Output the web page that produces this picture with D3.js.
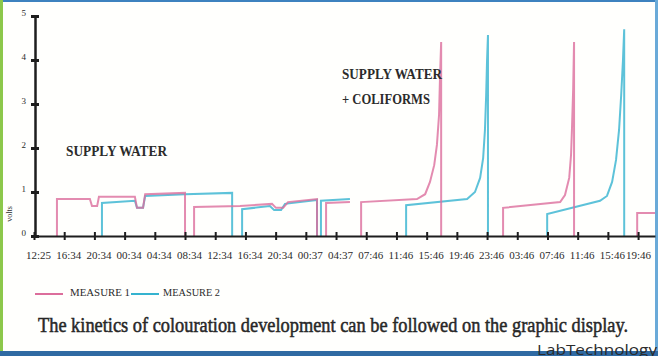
<!DOCTYPE html>
<html>
<head>
<meta charset="utf-8">
<script src="https://cdn.jsdelivr.net/npm/d3@7"></script>
<style>
  html, body { margin: 0; padding: 0; background: #fff; }
  svg { display: block; }
  text { font-family: "Liberation Serif", "DejaVu Serif", serif; fill: #2b2b2b; }
</style>
</head>
<body>
<svg id="chart" width="658" height="356"></svg>
<script>
// x ticks are evenly spaced on the display even though the clock gaps are not,
// so the runs below use the tick index as their x position
const tickLabels = ['12:25', '16:34', '20:34', '00:34', '04:34', '08:34', '12:34',
    '16:34', '20:34', '00:37', '04:37', '07:46', '11:46', '15:46', '19:46',
    '23:46', '03:46', '07:46', '11:46', '15:46', '19:46'];
const yTicks = [0, 1, 2, 3, 4, 5];

// measure 1 (pink) runs, [tick position, volts]
const measure1 = [
    [[0.76, 0], [0.76, 0.84], [1.85, 0.84], [1.92, 0.68], [2.09, 0.68], [2.15, 0.89],
     [3.34, 0.89], [3.41, 0.64], [3.61, 0.64], [3.68, 0.95], [5.0, 0.98], [5.0, 0]],
    [[5.30, 0], [5.30, 0.66], [6.82, 0.68], [7.88, 0.73], [8.01, 0.64], [8.25, 0.64],
     [8.41, 0.77], [9.37, 0.84], [9.37, 0]],
    [[9.67, 0], [9.67, 0.75], [10.46, 0.77]],
    [[10.83, 0], [10.83, 0.77], [12.68, 0.84], [12.95, 0.95], [13.11, 1.23], [13.25, 1.61],
     [13.34, 2.07], [13.41, 2.75], [13.44, 3.55], [13.48, 4.41], [13.48, 0]],
    [[15.53, 0], [15.53, 0.64], [17.42, 0.77], [17.58, 0.93], [17.72, 1.32], [17.78, 1.84],
     [17.81, 2.41], [17.85, 3.32], [17.88, 4.41], [17.88, 0]],
    [[19.97, 0], [19.97, 0.52], [20.56, 0.52]]
];

// measure 2 (cyan) runs
const measure2 = [
    [[2.25, 0], [2.25, 0.75], [3.34, 0.80], [3.41, 0.64], [3.61, 0.64], [3.68, 0.91],
     [5.0, 0.95], [6.56, 0.98], [6.56, 0]],
    [[6.89, 0], [6.89, 0.61], [7.81, 0.68], [7.95, 0.59], [8.18, 0.59], [8.31, 0.73],
     [9.37, 0.82], [9.37, 0]],
    [[9.50, 0], [9.50, 0.80], [10.46, 0.84]],
    [[12.32, 0], [12.32, 0.70], [14.34, 0.84], [14.60, 1.0], [14.77, 1.32], [14.87, 1.77],
     [14.93, 2.41], [14.97, 3.20], [15.0, 4.0], [15.03, 4.57], [15.03, 0]],
    [[16.99, 0], [16.99, 0.50], [18.74, 0.80], [18.97, 0.91], [19.14, 1.23], [19.27, 1.73],
     [19.37, 2.41], [19.44, 3.2], [19.50, 4.0], [19.54, 4.70], [19.54, 0]]
];

const series = [
    {name: 'MEASURE 1', color: '#dc6e9c', runs: measure1},
    {name: 'MEASURE 2', color: '#35b3cf', runs: measure2}
];

const svg = d3.select('#chart');

// screenshot frame
svg.append('rect').attr('width', 658).attr('height', 356).attr('fill', '#fffffd');
svg.append('rect').attr('x', 0).attr('y', 0).attr('width', 658).attr('height', 2).attr('fill', '#3d82bf');
svg.append('rect').attr('x', 0).attr('y', 0).attr('width', 3).attr('height', 356).attr('fill', '#8cc84b');
svg.append('rect').attr('x', 655).attr('y', 0).attr('width', 3).attr('height', 356).attr('fill', '#6aaad8');
svg.append('rect').attr('x', 0).attr('y', 351).attr('width', 658).attr('height', 5).attr('fill', '#2f6aa3');

const x = d3.scaleLinear().domain([0, 20.56]).range([34, 655]);
const y = d3.scaleLinear().domain([0, 5]).range([236, 16]);

const line = d3.line()
    .x(d => x(d[0]))
    .y(d => y(d[1]));

//plot runs, cyan under pink so overlaps blend to a lavender
for (let s of series.slice().reverse()) {
    svg.append('g')
        .attr('class', 'series')
        .selectAll('path')
        .data(s.runs)
        .enter()
        .append('path')
        .attr('d', line)
        .attr('fill', 'none')
        .attr('stroke', s.color)
        .attr('stroke-width', 2)
        .attr('stroke-opacity', 0.8);
}

//draw axes, ticks are dashes across the line
const xAxis = svg.append('g')
    .attr('transform', `translate(0,${y(0)})`)
    .call(d3.axisBottom(x)
        .tickValues(d3.range(tickLabels.length))
        .tickFormat(i => tickLabels[i])
        .tickSize(0)
        .tickSizeOuter(0)
        .tickPadding(15));
xAxis.select('.domain').attr('stroke', '#1e1e1e').attr('stroke-width', 2);
xAxis.selectAll('.tick line').remove();
xAxis.selectAll('.tick').append('line')
    .attr('y1', -4).attr('y2', 4)
    .attr('stroke', '#1e1e1e').attr('stroke-width', 2);
xAxis.selectAll('.tick text')
    .attr('dx', (d, i) => i === tickLabels.length - 1 ? 0 : 4)
    .style('font-size', '11px')
    .style('font-family', '"Liberation Serif", serif')
    .attr('fill', '#333');

const yAxis = svg.append('g')
    .attr('transform', `translate(${x(0) + 1},0)`)
    .call(d3.axisLeft(y)
        .tickValues(yTicks)
        .tickFormat(d3.format('d'))
        .tickSize(0)
        .tickSizeOuter(0)
        .tickPadding(9));
yAxis.select('.domain').attr('stroke', '#1e1e1e').attr('stroke-width', 2.5);
yAxis.selectAll('.tick').append('line')
    .attr('x1', -4).attr('x2', 4)
    .attr('stroke', '#1e1e1e').attr('stroke-width', 3);
yAxis.selectAll('.tick text')
    .attr('dy', '-0.1em')
    .style('font-size', '9px')
    .style('font-family', '"Liberation Serif", serif')
    .attr('fill', '#333');

svg.append('text')
    .attr('transform', 'translate(12,214) rotate(-90)')
    .attr('text-anchor', 'middle')
    .style('font-size', '8px')
    .text('volts');

//annotations
const notes = [
    {text: 'SUPPLY WATER', x: 66, y: 156, len: 101},
    {text: 'SUPPLY WATER', x: 342, y: 79, len: 100},
    {text: '+ COLIFORMS', x: 342, y: 104, len: 88}
];
svg.selectAll('.note')
    .data(notes)
    .enter()
    .append('text')
    .attr('class', 'note')
    .attr('x', d => d.x)
    .attr('y', d => d.y)
    .attr('textLength', d => d.len)
    .attr('lengthAdjust', 'spacingAndGlyphs')
    .style('font-size', '14px')
    .style('font-weight', 'bold')
    .attr('fill', '#333')
    .text(d => d.text);

//legend
const legend = svg.append('g').attr('transform', 'translate(35,294)');
const legendX = [0, 96];
series.forEach((s, i) => {
    const g = legend.append('g').attr('transform', `translate(${legendX[i]},0)`);
    g.append('line')
        .attr('x1', 0).attr('x2', 28)
        .attr('stroke', s.color).attr('stroke-width', 2);
    g.append('text')
        .attr('x', i === 0 ? 35 : 32)
        .attr('y', 2)
        .attr('textLength', i === 0 ? 60 : 57)
        .attr('lengthAdjust', 'spacingAndGlyphs')
        .style('font-size', '10.5px')
        .attr('fill', '#444')
        .text(s.name);
});

//caption
svg.append('text')
    .attr('x', 38)
    .attr('y', 332)
    .attr('textLength', 590)
    .attr('lengthAdjust', 'spacingAndGlyphs')
    .style('font-size', '21px')
    .attr('fill', '#222')
    .attr('stroke', '#222')
    .attr('stroke-width', 0.5)
    .text('The kinetics of colouration development can be followed on the graphic display.');

svg.append('text')
    .attr('x', 657)
    .attr('y', 355)
    .attr('text-anchor', 'end')
    .attr('textLength', 120)
    .attr('lengthAdjust', 'spacingAndGlyphs')
    .style('font-family', '"Open Sans", sans-serif')
    .style('font-size', '15px')
    .attr('fill', '#7a7a7a')
    .text('LabTechnology');
</script>
</body>
</html>
